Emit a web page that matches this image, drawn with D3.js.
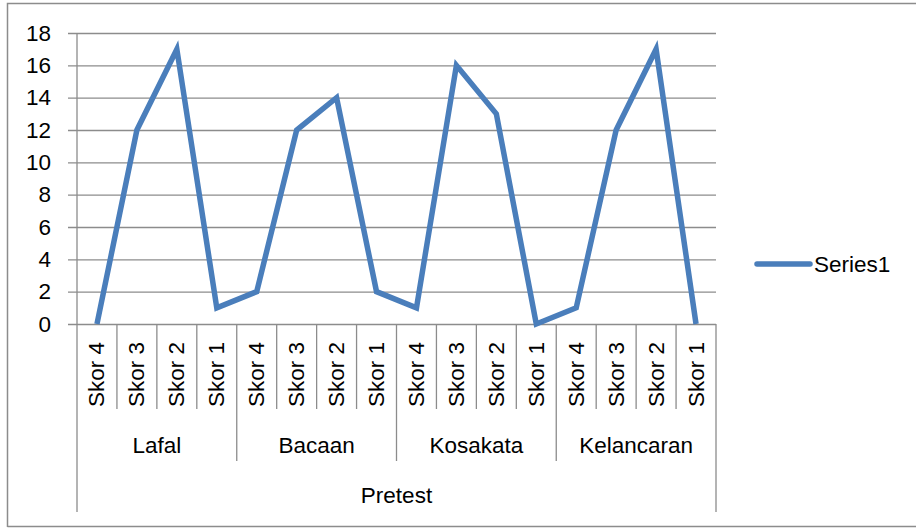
<!DOCTYPE html>
<html>
<head>
<meta charset="utf-8">
<script src="https://cdn.jsdelivr.net/npm/d3@7"></script>
<style>
html,body{margin:0;padding:0;background:#fff;}
svg{display:block;}
text{font-family:"Liberation Sans",Arial,sans-serif;fill:#000;}
</style>
</head>
<body>
<svg id="chart" width="916" height="528"></svg>
<script>
const groups = ["Lafal", "Bacaan", "Kosakata", "Kelancaran"];
const subcats = ["Skor 4", "Skor 3", "Skor 2", "Skor 1"];
const outerLabel = "Pretest";
const seriesName = "Series1";
const values = [0, 12, 17, 1, 2, 12, 14, 2, 1, 16, 13, 0, 1, 12, 17, 0];
const yTicks = [0, 2, 4, 6, 8, 10, 12, 14, 16, 18];

const svg = d3.select("#chart");
const plotLeft = 77, plotRight = 716, plotTop = 33, zeroY = 324;
const fs = 22.5;
const gridColor = "#8c8c8c";
const lineColor = "#4a7ebb";

// outer border
svg.append("path")
  .attr("d", "M7.5,527 V3.5 H916 M7.5,526.5 H916")
  .attr("fill", "none").attr("stroke", "#8c8c8c").attr("stroke-width", 1.5);

const cats = [];
groups.forEach((g, gi) => subcats.forEach((s, si) => cats.push({g, s, key: gi + "-" + si})));

const x = d3.scaleBand().domain(cats.map(c => c.key)).range([plotLeft, plotRight]).padding(0);
const y = d3.scaleLinear().domain([0, 18]).range([zeroY, plotTop]);

// gridlines via axis
const yAxis = d3.axisLeft(y).tickValues(yTicks).tickSize(-(plotRight - plotLeft)).tickPadding(26);
const ga = svg.append("g").attr("transform", `translate(${plotLeft},0)`).call(yAxis);
ga.select(".domain").remove();
ga.selectAll(".tick line").attr("stroke", gridColor).attr("stroke-width", 1.3).attr("x1", -9);
ga.selectAll(".tick text").attr("font-size", fs).attr("font-family", "Liberation Sans, Arial, sans-serif").attr("fill", "#000");

// y axis line
svg.append("line").attr("x1", plotLeft).attr("x2", plotLeft).attr("y1", plotTop).attr("y2", zeroY)
  .attr("stroke", gridColor).attr("stroke-width", 1.3);

// category boundaries
const bw = x.bandwidth();
const innerBottom = 409, groupBottom = 461, outerBottom = 512;
for (let i = 0; i <= cats.length; i++) {
  const xx = i < cats.length ? x(cats[i].key) : x(cats[cats.length - 1].key) + bw;
  let yb = innerBottom;
  if (i % 4 === 0) yb = groupBottom;
  if (i === 0 || i === cats.length) yb = outerBottom;
  svg.append("line").attr("x1", xx).attr("x2", xx).attr("y1", zeroY).attr("y2", yb)
    .attr("stroke", gridColor).attr("stroke-width", 1.3);
}

// sub category labels
svg.selectAll(".sub").data(cats).enter().append("text")
  .attr("transform", d => `translate(${x(d.key) + bw / 2},407) rotate(-90)`)
  .attr("text-anchor", "start").attr("dominant-baseline", "central")
  .attr("font-size", fs).text(d => d.s);

// group labels
groups.forEach((g, gi) => {
  const x0 = x(gi + "-0"), x1 = x(gi + "-3") + bw;
  svg.append("text").attr("x", (x0 + x1) / 2).attr("y", 445)
    .attr("text-anchor", "middle").attr("dominant-baseline", "central")
    .attr("font-size", fs).text(g);
});
svg.append("text").attr("x", (plotLeft + plotRight) / 2).attr("y", 495)
  .attr("text-anchor", "middle").attr("dominant-baseline", "central")
  .attr("font-size", fs).text(outerLabel);

// line
const line = d3.line().x((d, i) => x(cats[i].key) + bw / 2).y(d => y(d));
svg.append("path").datum(values).attr("d", line)
  .attr("fill", "none").attr("stroke", lineColor).attr("stroke-width", 5.5)
  .attr("stroke-linejoin", "miter");

// legend
svg.append("line").attr("x1", 757).attr("x2", 810).attr("y1", 264).attr("y2", 264)
  .attr("stroke", lineColor).attr("stroke-width", 5.5).attr("stroke-linecap", "round");
svg.append("text").attr("x", 814).attr("y", 264).attr("dominant-baseline", "central")
  .attr("font-size", fs).text(seriesName);
</script>
</body>
</html>
